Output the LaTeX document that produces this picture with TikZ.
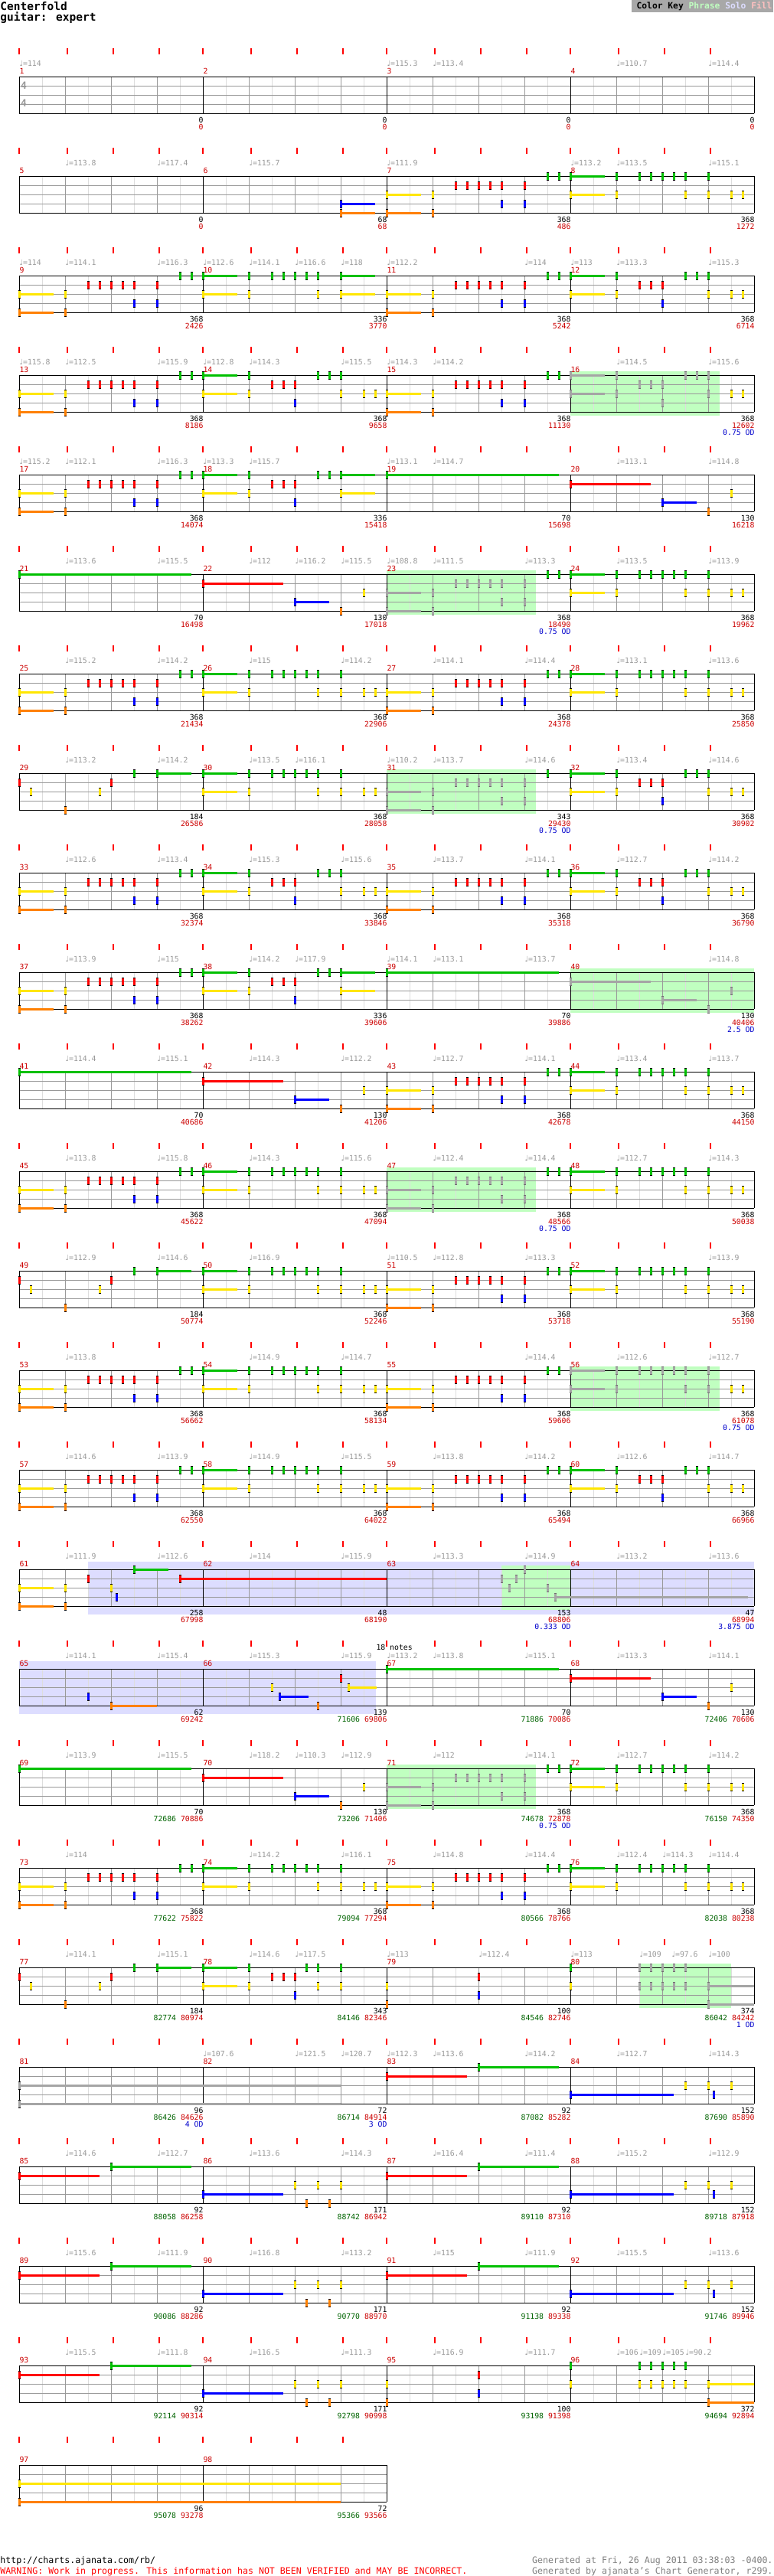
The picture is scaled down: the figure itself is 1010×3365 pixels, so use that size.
\documentclass[tikz,border=0pt]{standalone}
\usepackage{fontspec}
\setmainfont{DejaVu Sans Mono}
\newfontfamily\djs{DejaVu Sans}
\definecolor{cG}{RGB}{0,192,0}
\definecolor{cR}{RGB}{255,0,0}
\definecolor{cY}{RGB}{255,230,0}
\definecolor{cB}{RGB}{0,0,255}
\definecolor{cO}{RGB}{255,128,0}
\definecolor{cngray}{RGB}{165,165,165}
\definecolor{cncap}{RGB}{110,110,110}
\definecolor{cphr}{RGB}{192,255,192}
\definecolor{csolo}{RGB}{221,221,255}
\definecolor{cfill}{RGB}{255,192,192}
\definecolor{ctick}{RGB}{255,0,0}
\definecolor{cmnum}{RGB}{204,0,0}
\definecolor{ctempo}{RGB}{153,153,153}
\definecolor{clgrid}{RGB}{221,221,221}
\definecolor{cmgrid}{RGB}{153,153,153}
\definecolor{csgreen}{RGB}{0,100,0}
\definecolor{csred}{RGB}{204,0,0}
\definecolor{csblue}{RGB}{0,0,204}
\definecolor{ckeybg}{RGB}{168,168,168}
\definecolor{cfoot}{RGB}{128,128,128}
\tikzset{
  lab/.style={inner sep=0pt, font=\fontsize{9.8}{10}\selectfont},
  tmp/.style={lab, text=ctempo, anchor=west},
  mno/.style={lab, text=cmnum, anchor=west},
  sc/.style={lab, anchor=east},
  big/.style={inner sep=0pt, anchor=west, font=\bfseries\fontsize{14.5}{15}\selectfont},
  foot/.style={inner sep=0pt, font=\fontsize{11.6}{12}\selectfont},
  tsig/.style={inner sep=0pt, text=ctempo, font=\bfseries\fontsize{13}{13}\selectfont},
}
% row / region helpers
\newcommand\setrow[1]{\pgfmathsetmacro\rT{100+130*#1}\gdef\gL{-100}\gdef\gR{-100}}
\newcommand\phrase[2]{\fill[cphr] (#1,\rT-5) rectangle (#2,\rT+53);\gdef\gL{#1}\gdef\gR{#2}}
\newcommand\soloreg[2]{\fill[csolo] (#1,\rT-10) rectangle (#2,\rT+59);}
\newcommand\staff[1]{%
  \pgfmathsetmacro\xe{25+240*#1}%
  \foreach \m in {1,...,#1}{%
    \pgfmathsetmacro\xo{25+240*(\m-1)}%
    \foreach \d in {30,90,150,210} \draw[clgrid] (\xo+\d,\rT) -- (\xo+\d,\rT+48);
    \foreach \d in {60,120,180} \draw[cmgrid] (\xo+\d,\rT) -- (\xo+\d,\rT+48);
    \foreach \d in {0,63,123,183} \fill[ctick] (\xo+\d-1,\rT-37) rectangle (\xo+\d+1,\rT-29);
  }%
  \foreach \s in {1,2,3} \draw[cmgrid] (25,\rT+12*\s) -- (\xe,\rT+12*\s);
  \foreach \m in {0,...,#1} \draw[black] ({25+240*\m},\rT) -- ({25+240*\m},\rT+48);
  \draw[black] (25,\rT) -- (\xe,\rT) (25,\rT+48) -- (\xe,\rT+48);
}
\newcommand\mnums[2]{\foreach \i in {1,...,#2}{\pgfmathtruncatemacro\nm{#1+\i-1}\node[mno] at ({25+240*(\i-1)},\rT-7) {\nm};}}
\newcommand\tempos[1]{\foreach \b/\v in {#1}{\node[tmp] at ({25+60*\b},\rT-17) {{\djs\char"2669}=\v};}}
\newcommand\scA[3]{\node[sc] at ({26+240*#1},\rT+57) {#2};\node[sc,text=csred] at ({26+240*#1},\rT+66) {#3};}
\newcommand\scB[4]{\node[sc] at ({26+240*#1},\rT+57) {#2};\node[sc] at ({26+240*#1},\rT+66) {\textcolor{csgreen}{#3} \textcolor{csred}{#4}};}
\newcommand\odl[2]{\node[sc,text=csblue] at ({26+240*#1},\rT+75) {#2 OD};}
% notes
\newcommand\meas[1]{\pgfmathsetmacro\mX{25+240*#1}}
\newcommand\pick[1]{\ifdim#1pt<\gL pt\relax\else\ifdim#1pt<\gR pt\relax\def\ncol{cngray}\def\ncap{cncap}\fi\fi}
\newcommand\dnote[1]{%
  \pgfmathsetmacro\qy{\rT+12*#1}%
  \fill[\ncol] (\qx-1.5,\qy-5) rectangle (\qx+1.5,\qy+5);
  \fill[\ncap] (\qx-1.5,\qy-5.5) rectangle (\qx+1.5,\qy-4.5);
  \fill[\ncap] (\qx-1.5,\qy+4.5) rectangle (\qx+1.5,\qy+5.5);}
\newcommand\putn[3]{\pgfmathsetmacro\qx{\mX+15*(#1)}\def\ncol{#3}\def\ncap{black}\pick{\qx}\dnote{#2}}
\newcommand\puts[4]{\pgfmathsetmacro\qx{\mX+15*(#1)}\def\ncol{#3}\def\ncap{black}\pick{\qx}%
  \pgfmathsetmacro\qy{\rT+12*#2}\fill[\ncol] (\qx,\qy-1.5) rectangle (\qx+#4,\qy+1.5);\dnote{#2}}
\newcommand\gN[1]{\putn{#1}{0}{cG}}
\newcommand\rN[1]{\putn{#1}{1}{cR}}
\newcommand\yN[1]{\putn{#1}{2}{cY}}
\newcommand\bN[1]{\putn{#1}{3}{cB}}
\newcommand\oN[1]{\putn{#1}{4}{cO}}
\newcommand\gS[2]{\puts{#1}{0}{cG}{#2}}
\newcommand\rS[2]{\puts{#1}{1}{cR}{#2}}
\newcommand\yS[2]{\puts{#1}{2}{cY}{#2}}
\newcommand\bS[2]{\puts{#1}{3}{cB}{#2}}
\newcommand\oS[2]{\puts{#1}{4}{cO}{#2}}
% measure patterns
\newcommand\patA{\yS{0}{45}\oS{0}{45}\yN{4}\oN{4}\rN{6}\rN{7}\rN{8}\rN{9}\rN{10}\rN{12}\bN{10}\bN{12}\gN{14}\gN{15}}
\newcommand\patAp{\yS{0}{45}\oS{0}{45}\yN{4}\oN{4}\rN{6}\rN{7}\rN{8}\rN{9}\rN{10}\rN{12}\bN{10}\bN{12}\gN{14}}
\newcommand\patB{\gS{0}{45}\yS{0}{45}\gN{4}\yN{4}\gN{6}\gN{7}\gN{8}\gN{9}\gN{10}\yN{10}\gS{12}{45}\yS{12}{45}}
\newcommand\patC{\gS{0}{45}\yS{0}{45}\gN{4}\yN{4}\rN{6}\rN{7}\rN{8}\bN{8}\gN{10}\gN{11}\gN{12}\yN{12}\yN{14}\yN{15}}
\newcommand\patD{\gS{0}{45}\yS{0}{45}\gN{4}\yN{4}\gN{6}\gN{7}\gN{8}\gN{9}\gN{10}\yN{10}\gN{12}\yN{12}\yN{14}\yN{15}}
\newcommand\patF{\gS{0}{45}\yS{0}{45}\gN{4}\yN{4}\rN{6}\rN{7}\rN{8}\bN{8}\gN{10}\gN{11}\gS{12}{45}\yS{12}{45}}
\newcommand\patG{\gS{0}{225}}
\newcommand\patH{\rS{0}{105}\bS{8}{45}\oN{12}\yN{14}}
\newcommand\patI{\rN{0}\yN{1}\oN{4}\yN{7}\rN{8}\gN{10}\gS{12}{45}}
\newcommand\patJ{\gS{0}{45}\yS{0}{45}\gN{4}\yN{4}\rN{6}\rN{7}\rN{8}\bN{8}\gN{9}\gN{10}\yN{10}\gN{12}\yN{12}}
\newcommand\patN{\yN{0}\oN{0}\rN{8}\bN{8}}
\newcommand\patP{\gN{0}\yN{0}\gN{6}\gN{7}\gN{8}\gN{9}\gN{10}\yN{6}\yN{7}\yN{8}\yN{9}\yN{10}\yS{12}{60}\oS{12}{60}}
\newcommand\patK{\rS{0}{105}\gS{8}{105}}
\newcommand\patL{\bS{0}{105}\yN{8}\oN{9}\yN{10}\oN{11}\yN{12}}
\newcommand\patM{\bS{0}{135}\yN{10}\yN{12}\bN{12.47}\yN{14}}

\begin{document}
\begin{tikzpicture}[x=1pt,y=-1pt,line width=1pt]
\useasboundingbox (0,0) rectangle (1010,3365);
\fill[white] (0,0) rectangle (1010,3365);
% header
\node[big] (title) at (0,8) {Centerfold};
\node[big] (sub) at (0,23) {guitar: expert};
\fill[ckeybg] (825,0) rectangle (1010,16);
\node[inner sep=0pt, anchor=east, font=\bfseries\fontsize{11.3}{12}\selectfont] (key) at (1009,8) {Color Key \textcolor{cphr}{Phrase} \textcolor{csolo}{Solo} \textcolor{cfill}{Fill}};

% row 1
\setrow{0}\staff{4}\mnums{1}{4}
\node[tsig] (ts1) at (31,112) {4};\node[tsig] (ts2) at (31,135) {4};
\tempos{0/114,8/115.3,9/113.4,13/110.7,15/114.4}
\scA{1}{0}{0}\scA{2}{0}{0}\scA{3}{0}{0}\scA{4}{0}{0}
% row 2
\setrow{1}\staff{4}\mnums{5}{4}
\tempos{1/113.8,3/117.4,5/115.7,8/111.9,12/113.2,13/113.5,15/115.1}
\meas{1}\bS{12}{45}\oS{12}{45}\meas{2}\patA\meas{3}\patD
\scA{1}{0}{0}\scA{2}{68}{68}\scA{3}{368}{486}\scA{4}{368}{1272}
% row 3
\setrow{2}\staff{4}\mnums{9}{4}
\tempos{0/114,1/114.1,3/116.3,4/112.6,5/114.1,6/116.6,7/118,8/112.2,11/114,12/113,13/113.3,15/115.3}
\meas{0}\patA\meas{1}\patB\meas{2}\patA\meas{3}\patC
\scA{1}{368}{2426}\scA{2}{336}{3770}\scA{3}{368}{5242}\scA{4}{368}{6714}
% row 4
\setrow{3}\phrase{745}{940}\staff{4}\mnums{13}{4}
\tempos{0/115.8,1/112.5,3/115.9,4/112.8,5/114.3,7/115.5,8/114.3,9/114.2,13/114.5,15/115.6}
\meas{0}\patA\meas{1}\patC\meas{2}\patA\meas{3}\patC
\scA{1}{368}{8186}\scA{2}{368}{9658}\scA{3}{368}{11130}\scA{4}{368}{12602}\odl{4}{0.75}
% row 5
\setrow{4}\staff{4}\mnums{17}{4}
\tempos{0/115.2,1/112.1,3/116.3,4/113.3,5/115.7,8/113.1,9/114.7,13/113.1,15/114.8}
\meas{0}\patA\meas{1}\patF\meas{2}\patG\meas{3}\patH
\scA{1}{368}{14074}\scA{2}{336}{15418}\scA{3}{70}{15698}\scA{4}{130}{16218}
% row 6
\setrow{5}\phrase{505}{700}\staff{4}\mnums{21}{4}
\tempos{1/113.6,3/115.5,5/112,6/116.2,7/115.5,8/108.8,9/111.5,11/113.3,13/113.5,15/113.9}
\meas{0}\patG\meas{1}\patH\meas{2}\patA\meas{3}\patD
\scA{1}{70}{16498}\scA{2}{130}{17018}\scA{3}{368}{18490}\odl{3}{0.75}\scA{4}{368}{19962}
% row 7
\setrow{6}\staff{4}\mnums{25}{4}
\tempos{1/115.2,3/114.2,5/115,7/114.2,9/114.1,11/114.4,13/113.1,15/113.6}
\meas{0}\patA\meas{1}\patD\meas{2}\patA\meas{3}\patD
\scA{1}{368}{21434}\scA{2}{368}{22906}\scA{3}{368}{24378}\scA{4}{368}{25850}
% row 8
\setrow{7}\phrase{505}{700}\staff{4}\mnums{29}{4}
\tempos{1/113.2,3/114.2,5/113.5,6/116.1,8/110.2,9/113.7,11/114.6,13/113.4,15/114.6}
\meas{0}\patI\meas{1}\patD\meas{2}\patAp\meas{3}\patC
\scA{1}{184}{26586}\scA{2}{368}{28058}\scA{3}{343}{29430}\odl{3}{0.75}\scA{4}{368}{30902}
% row 9
\setrow{8}\staff{4}\mnums{33}{4}
\tempos{1/112.6,3/113.4,5/115.3,7/115.6,9/113.7,11/114.1,13/112.7,15/114.2}
\meas{0}\patA\meas{1}\patC\meas{2}\patA\meas{3}\patC
\scA{1}{368}{32374}\scA{2}{368}{33846}\scA{3}{368}{35318}\scA{4}{368}{36790}
% row 10
\setrow{9}\phrase{745}{985}\staff{4}\mnums{37}{4}
\tempos{1/113.9,3/115,5/114.2,6/117.9,8/114.1,9/113.1,11/113.7,15/114.8}
\meas{0}\patA\meas{1}\patF\meas{2}\patG\meas{3}\patH
\scA{1}{368}{38262}\scA{2}{336}{39606}\scA{3}{70}{39886}\scA{4}{130}{40406}\odl{4}{2.5}
% row 11
\setrow{10}\staff{4}\mnums{41}{4}
\tempos{1/114.4,3/115.1,5/114.3,7/112.2,9/112.7,11/114.1,13/113.4,15/113.7}
\meas{0}\patG\meas{1}\patH\meas{2}\patA\meas{3}\patD
\scA{1}{70}{40686}\scA{2}{130}{41206}\scA{3}{368}{42678}\scA{4}{368}{44150}
% row 12
\setrow{11}\phrase{505}{700}\staff{4}\mnums{45}{4}
\tempos{1/113.8,3/115.8,5/114.3,7/115.6,9/112.4,11/114.4,13/112.7,15/114.3}
\meas{0}\patA\meas{1}\patD\meas{2}\patA\meas{3}\patD
\scA{1}{368}{45622}\scA{2}{368}{47094}\scA{3}{368}{48566}\odl{3}{0.75}\scA{4}{368}{50038}
% row 13
\setrow{12}\staff{4}\mnums{49}{4}
\tempos{1/112.9,3/114.6,5/116.9,8/110.5,9/112.8,11/113.3,15/113.9}
\meas{0}\patI\meas{1}\patD\meas{2}\patA\meas{3}\patD
\scA{1}{184}{50774}\scA{2}{368}{52246}\scA{3}{368}{53718}\scA{4}{368}{55190}
% row 14
\setrow{13}\phrase{745}{940}\staff{4}\mnums{53}{4}
\tempos{1/113.8,5/114.9,7/114.7,11/114.4,13/112.6,15/112.7}
\meas{0}\patA\meas{1}\patD\meas{2}\patA\meas{3}\patD
\scA{1}{368}{56662}\scA{2}{368}{58134}\scA{3}{368}{59606}\scA{4}{368}{61078}\odl{4}{0.75}
% row 15
\setrow{14}\staff{4}\mnums{57}{4}
\tempos{1/114.6,3/113.9,5/114.9,7/115.5,9/113.8,11/114.2,13/112.6,15/114.7}
\meas{0}\patA\meas{1}\patD\meas{2}\patA\meas{3}\patC
\scA{1}{368}{62550}\scA{2}{368}{64022}\scA{3}{368}{65494}\scA{4}{368}{66966}
% row 16
\setrow{15}\soloreg{115}{985}\phrase{655}{745}\staff{4}\mnums{61}{4}
\tempos{1/111.9,3/112.6,5/114,7/115.9,9/113.3,11/114.9,13/113.2,15/113.6}
\meas{0}\yS{0}{45}\oS{0}{45}\yN{4}\oN{4}\rN{6}\yN{8}\bN{8.5}\gS{10}{45}\rS{14}{270}
\meas{2}\rN{10}\yN{10.67}\rN{11.33}\gN{12}\yN{14}\bS{14.67}{252}
\scA{1}{258}{67998}\scA{2}{48}{68190}\scA{3}{153}{68806}\odl{3}{0.333}\scA{4}{47}{68994}\odl{4}{3.875}
% row 17
\setrow{16}\soloreg{25}{491}\staff{4}\mnums{65}{4}
\tempos{1/114.1,3/115.4,5/115.3,7/115.9,8/113.2,9/113.8,11/115.1,13/113.3,15/114.1}
\node[lab,anchor=west] (notes18) at (491,\rT-28) {18 notes};
\meas{0}\bN{6}\oS{8}{60}
\meas{1}\yN{6}\bS{6.67}{38}\oN{10}\rN{12}\yS{12.67}{37}
\meas{2}\patG\meas{3}\patH
\scA{1}{62}{69242}\scB{2}{139}{71606}{69806}\scB{3}{70}{71886}{70086}\scB{4}{130}{72406}{70606}
% row 18
\setrow{17}\phrase{505}{700}\staff{4}\mnums{69}{4}
\tempos{1/113.9,3/115.5,5/118.2,6/110.3,7/112.9,9/112,11/114.1,13/112.7,15/114.2}
\meas{0}\patG\meas{1}\patH\meas{2}\patA\meas{3}\patD
\scB{1}{70}{72686}{70886}\scB{2}{130}{73206}{71406}\scB{3}{368}{74678}{72878}\odl{3}{0.75}\scB{4}{368}{76150}{74350}
% row 19
\setrow{18}\staff{4}\mnums{73}{4}
\tempos{1/114,5/114.2,7/116.1,9/114.8,11/114.4,13/112.4,14/114.3,15/114.4}
\meas{0}\patA\meas{1}\patD\meas{2}\patA\meas{3}\patD
\scB{1}{368}{77622}{75822}\scB{2}{368}{79094}{77294}\scB{3}{368}{80566}{78766}\scB{4}{368}{82038}{80238}
% row 20
\setrow{19}\phrase{835}{955}\staff{4}\mnums{77}{4}
\tempos{1/114.1,3/115.1,5/114.6,6/117.5,8/113,10/112.4,12/113,13.5/109,14.2/97.6,15/100}
\meas{0}\patI\meas{1}\patJ\meas{2}\patN\meas{3}\patP
\scB{1}{184}{82774}{80974}\scB{2}{343}{84146}{82346}\scB{3}{100}{84546}{82746}\scB{4}{374}{86042}{84242}\odl{4}{1}
% row 21
\setrow{20}\staff{4}\mnums{81}{4}
\tempos{4/107.6,6/121.5,7/120.7,8/112.3,9/113.6,11/114.2,13/112.7,15/114.3}
\meas{0}\puts{0}{2}{cngray}{420}\puts{0}{4}{cngray}{420}
\meas{2}\patK\meas{3}\patM
\scB{1}{96}{86426}{84626}\odl{1}{4}\scB{2}{72}{86714}{84914}\odl{2}{3}\scB{3}{92}{87082}{85282}\scB{4}{152}{87690}{85890}
% row 22
\setrow{21}\staff{4}\mnums{85}{4}
\tempos{1/114.6,3/112.7,5/113.6,7/114.3,9/116.4,11/111.4,13/115.2,15/112.9}
\meas{0}\patK\meas{1}\patL\meas{2}\patK\meas{3}\patM
\scB{1}{92}{88058}{86258}\scB{2}{171}{88742}{86942}\scB{3}{92}{89110}{87310}\scB{4}{152}{89718}{87918}
% row 23
\setrow{22}\staff{4}\mnums{89}{4}
\tempos{1/115.6,3/111.9,5/116.8,7/113.2,9/115,11/111.9,13/115.5,15/113.6}
\meas{0}\patK\meas{1}\patL\meas{2}\patK\meas{3}\patM
\scB{1}{92}{90086}{88286}\scB{2}{171}{90770}{88970}\scB{3}{92}{91138}{89338}\scB{4}{152}{91746}{89946}
% row 24
\setrow{23}\staff{4}\mnums{93}{4}
\tempos{1/115.5,3/111.8,5/116.5,7/111.3,9/116.9,11/111.7,13/106,13.5/109,14/105,14.5/90.2}
\meas{0}\patK\meas{1}\patL\meas{2}\patN\meas{3}\patP
\scB{1}{92}{92114}{90314}\scB{2}{171}{92798}{90998}\scB{3}{100}{93198}{91398}\scB{4}{372}{94694}{92894}
% row 25
\setrow{24}\staff{2}\mnums{97}{2}
\meas{0}\yS{0}{420}\oS{0}{420}
\scB{1}{96}{95078}{93278}\scB{2}{72}{95366}{93566}
% footer
\node[foot,anchor=west] (url) at (0,3345) {http://charts.ajanata.com/rb/};
\node[foot,anchor=west,text=red] (warn) at (0,3359) {WARNING: Work in progress. This information has NOT BEEN VERIFIED and MAY BE INCORRECT.};
\node[foot,anchor=east,text=cfoot] (gen1) at (1010,3345) {Generated at Fri, 26 Aug 2011 03:38:03 -0400.};
\node[foot,anchor=east,text=cfoot] (gen2) at (1010,3359) {Generated by ajanata's Chart Generator, r299.};
\end{tikzpicture}
\end{document}
